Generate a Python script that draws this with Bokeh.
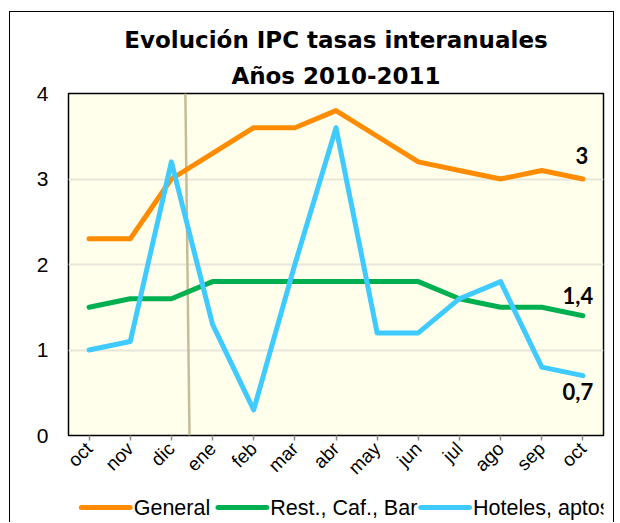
import math
from bokeh.plotting import figure
from bokeh.layouts import column
from bokeh.models import FixedTicker, Title, Range1d
from bokeh.core.properties import value
from bokeh.embed import file_html
from bokeh.resources import INLINE

# ---------------- data ----------------
months = ["oct", "nov", "dic", "ene", "feb", "mar", "abr", "may", "jun", "jul", "ago", "sep", "oct"]
general = [2.3, 2.3, 3.0, 3.3, 3.6, 3.6, 3.8, 3.5, 3.2, 3.1, 3.0, 3.1, 3.0]
rest_caf_bar = [1.5, 1.6, 1.6, 1.8, 1.8, 1.8, 1.8, 1.8, 1.8, 1.6, 1.5, 1.5, 1.4]
hoteles = [1.0, 1.1, 3.2, 1.3, 0.3, 2.0, 3.6, 1.2, 1.2, 1.6, 1.8, 0.8, 0.7]
series_names = ["General", "Rest., Caf., Bar", "Hoteles, aptos."]
end_labels = ["3", "1,4", "0,7"]
y_ticks = [0, 1, 2, 3, 4]
title_lines = ["Evolución IPC tasas interanuales", "Años 2010-2011"]

idx = list(range(len(months)))
colors = ["#FF8C00", "#00B050", "#3FCBFF"]

p = figure(width=603, height=480, x_range=(-0.5, len(months) - 0.5), y_range=(0, 4),
           output_backend="svg", toolbar_location=None,
           min_border_left=58, min_border_right=10, min_border_top=81, min_border_bottom=57)
p.title.text = ""
p.background_fill_color = "#FFFFEB"
p.border_fill_color = None
p.outline_line_color = "black"
p.outline_line_width = 1.5

# axes
p.yaxis.ticker = FixedTicker(ticks=y_ticks)
p.yaxis.axis_line_color = None
p.yaxis.major_tick_line_color = None
p.yaxis.minor_tick_line_color = None
p.yaxis.major_label_standoff = 14
p.yaxis.major_label_text_font = "Liberation Sans"
p.yaxis.major_label_text_font_size = "21px"
p.yaxis.major_label_text_color = "black"

p.xaxis.ticker = FixedTicker(ticks=idx)
p.xaxis.major_label_overrides = {i: m for i, m in zip(idx, months)}
p.xaxis.axis_line_color = None
p.xaxis.major_tick_out = 5
p.xaxis.major_tick_in = 0
p.xaxis.major_tick_line_color = "#8C8C8C"
p.xaxis.major_tick_line_width = 1.5
p.xaxis.minor_tick_line_color = None
p.xaxis.major_label_orientation = math.pi / 4
p.xaxis.major_label_standoff = 5
p.xaxis.major_label_text_font = "Liberation Sans"
p.xaxis.major_label_text_font_size = "19px"
p.xaxis.major_label_text_color = "black"

p.xgrid.grid_line_color = None
p.ygrid.ticker = FixedTicker(ticks=[1, 2, 3])
p.ygrid.grid_line_color = "#E8E5DA"
p.ygrid.grid_line_width = 2

# decorative divider line between dic and ene
divider_x = [2.34, 2.44]
p.segment(x0=[divider_x[0]], y0=[4], x1=[divider_x[1]], y1=[0], line_color="#C4BD97", line_width=2.5)

for vals, c in zip([general, rest_caf_bar, hoteles], colors):
    p.line(idx, vals, line_color=c, line_width=5, line_cap="round", line_join="round")

# end labels
offsets = [(-1, -24), (-5, -20), (-5, 16)]
for vals, lab, (dx, dy) in zip([general, rest_caf_bar, hoteles], end_labels, offsets):
    p.text(x=[idx[-1]], y=[vals[-1]], text=[lab], text_font=value("Lato"), text_font_size="22px",
           text_font_style="bold", text_color="black", text_align="center",
           text_baseline="alphabetic", x_offset=dx, y_offset=dy)

t2 = Title(text=title_lines[1], align="center", text_font="DejaVu Sans", text_font_size="23px",
           text_font_style="bold", text_color="black", standoff=10)
t1 = Title(text=title_lines[0], align="center", text_font="DejaVu Sans", text_font_size="23px",
           text_font_style="bold", text_color="black", standoff=5)
p.add_layout(t2, "above")
p.add_layout(t1, "above")

# ---------------- legend strip (separate small figure, pixel-based range) ----------------
leg_w, leg_h = 603, 30
glyph_start = [14.5, 168.5, 397.0]
glyph_len = 55
label_gap = 4

lg = figure(width=leg_w, height=leg_h, x_range=Range1d(0, leg_w), y_range=Range1d(0, 1),
            output_backend="svg", toolbar_location=None, x_axis_type=None, y_axis_type=None,
            min_border=0)
lg.title.text = ""
lg.outline_line_color = None
lg.background_fill_color = None
lg.border_fill_color = None
lg.xgrid.visible = False
lg.ygrid.visible = False

lg.segment(x0=glyph_start, y0=[0.5] * 3, x1=[g + glyph_len for g in glyph_start], y1=[0.5] * 3,
           line_color=colors, line_width=5, line_cap="round")
lg.text(x=[g + glyph_len + label_gap for g in glyph_start], y=[0.5] * 3, text=series_names,
        text_font=value("Liberation Sans"), text_font_size="21.5px", text_color="black",
        text_align="left", text_baseline="middle")

layout = column(p, lg, spacing=0,
                styles={"margin-left": "9px", "margin-top": "11px",
                        "border-left": "1.5px solid black", "border-top": "1.5px solid black",
                        "border-right": "1.5px solid black"})

open("out.html", "w").write(file_html(layout, INLINE))
